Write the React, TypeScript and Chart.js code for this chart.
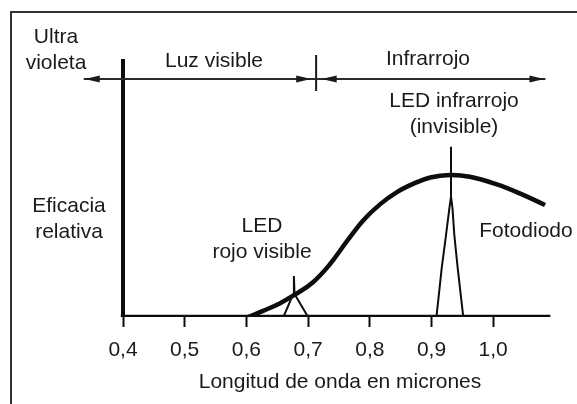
import React, { useEffect, useRef } from "react";
import { Chart, registerables } from "chart.js";

Chart.register(...registerables);

// ---- data ----
const xTickValues = [0.4, 0.5, 0.6, 0.7, 0.8, 0.9, 1.0];
const xTickLabels = ["0,4", "0,5", "0,6", "0,7", "0,8", "0,9", "1,0"];

const fotodiodoX = [0.603, 0.627, 0.654, 0.679, 0.708, 0.735, 0.763, 0.79, 0.817, 0.844, 0.871, 0.898, 0.93, 0.962, 1.006, 1.043, 1.084];
const fotodiodoY = [0.0, 0.024, 0.053, 0.088, 0.136, 0.205, 0.296, 0.379, 0.441, 0.488, 0.521, 0.545, 0.555, 0.548, 0.518, 0.483, 0.4375];

const ledRojoX = [0.66, 0.676, 0.677, 0.678, 0.7];
const ledRojoY = [0.0, 0.09, 0.16, 0.09, 0.0];

const ledIrX = [0.908, 0.9165, 0.9235, 0.929, 0.9316, 0.9316, 0.9316, 0.934, 0.937, 0.9425, 0.9515];
const ledIrY = [0.0, 0.19, 0.32, 0.425, 0.47, 0.665, 0.47, 0.425, 0.32, 0.19, 0.0];

const xAxisX = [0.4, 1.089];
const xAxisY = [0, 0];
const yAxisX = [0.4, 0.4];
const yAxisY = [0, 1.0];

const spectrumX = [0.338, 1.083];
const spectrumY = [0.93, 0.93];
const boundaryX = [0.713, 0.713];
const boundaryY = [0.887, 1.02];
const arrowTipX = [0.338, 0.705, 0.722, 1.083];
const arrowDir = [-1, 1, -1, 1];

const labelLines = [
  ["Ultra", "violeta"],
  ["Luz visible"],
  ["Infrarrojo"],
  ["LED infrarrojo", "(invisible)"],
  ["Eficacia", "relativa"],
  ["LED", "rojo visible"],
  ["Fotodiodo"],
  ["Longitud de onda en micrones"],
];
const labelX = [0.2914, 0.5475, 0.8943, 0.9365, 0.3125, 0.6253, 1.0531, 0.7517];
const labelY = [1.0703, 0.9766, 0.984, 0.8203, 0.41, 0.332, 0.3125, -0.277];

const zip = (xs: number[], ys: number[]) => xs.map((x, i) => ({ x, y: ys[i] }));

const FONT = "'Liberation Sans', Arial, sans-serif";
const INK = "#0d0d0d";
const TEXT = "#1a1a1a";

const overlayPlugin = {
  id: "overlay",
  afterDatasetsDraw(chart: any) {
    const { ctx, scales } = chart;
    const xs = scales.x;
    const ys = scales.y;
    ctx.save();
    // arrowheads
    ctx.fillStyle = "#1a1a1a";
    const ay = ys.getPixelForValue(spectrumY[0]);
    arrowTipX.forEach((v, i) => {
      const tx = xs.getPixelForValue(v);
      const d = arrowDir[i];
      ctx.beginPath();
      ctx.moveTo(tx, ay);
      ctx.lineTo(tx - d * 15, ay - 3.5);
      ctx.lineTo(tx - d * 15, ay + 3.5);
      ctx.closePath();
      ctx.fill();
    });
    // labels
    ctx.fillStyle = TEXT;
    ctx.font = `21px ${FONT}`;
    ctx.textAlign = "center";
    ctx.textBaseline = "alphabetic";
    labelLines.forEach((lines, i) => {
      const px = xs.getPixelForValue(labelX[i]);
      const py = ys.getPixelForValue(labelY[i]);
      lines.forEach((t, j) => ctx.fillText(t, px, py + j * 26));
    });
    ctx.restore();
  },
};

export default function App() {
  const ref = useRef<HTMLCanvasElement | null>(null);
  useEffect(() => {
    if (!ref.current) return;
    const line = (data: any[], width: number, color = INK, tension = 0) => ({
      data,
      showLine: true,
      borderColor: color,
      borderWidth: width,
      pointRadius: 0,
      tension,
      fill: false,
      borderCapStyle: "square",
      borderJoinStyle: "miter",
    });
    const chart = new Chart(ref.current, {
      type: "scatter",
      data: {
        datasets: [
          line(zip(spectrumX, spectrumY), 2, "#2a2a2a"),
          line(zip(boundaryX, boundaryY), 2, "#1a1a1a"),
          line(zip(ledRojoX, ledRojoY), 2),
          line(zip(ledIrX, ledIrY), 2),
          { ...line(zip(fotodiodoX, fotodiodoY), 4.5, INK, 0.4), borderCapStyle: "butt", borderJoinStyle: "round" },
          line(zip(xAxisX, xAxisY), 4.5),
          line(zip(yAxisX, yAxisY), 4),
        ] as any,
      },
      options: {
        animation: false,
        responsive: false,
        devicePixelRatio: 1,
        layout: { padding: { left: 61.3, right: 22.1, top: 35.4, bottom: 0 } },
        plugins: { legend: { display: false }, tooltip: { enabled: false } },
        scales: {
          x: {
            type: "linear",
            min: 0.3,
            max: 1.1,
            position: "bottom",
            afterBuildTicks: (s: any) => {
              s.ticks = xTickValues.map((v) => ({ value: v }));
            },
            afterFit: (s: any) => {
              s.height = 87;
            },
            grid: { drawOnChartArea: false, drawTicks: true, tickLength: 10, tickWidth: 2, tickColor: INK },
            border: { display: false },
            ticks: {
              autoSkip: false,
              maxRotation: 0,
              padding: 11,
              color: TEXT,
              font: { family: FONT, size: 21 },
              callback: (_v: any, i: number) => xTickLabels[i],
            },
          },
          y: { type: "linear", min: 0, max: 1.1, display: false },
        },
      } as any,
      plugins: [overlayPlugin],
    });
    return () => chart.destroy();
  }, []);
  return (
    <div style={{ position: "fixed", left: 0, top: 0, width: 577, height: 404, overflow: "hidden", background: "#fff" }}>
      <div style={{ position: "absolute", left: 10, top: 11, width: 700, height: 500, borderLeft: "2px solid #333", borderTop: "2px solid #333" }} />
      <canvas ref={ref} width={577} height={404} style={{ position: "absolute", left: 0, top: 0 }} />
    </div>
  );
}
